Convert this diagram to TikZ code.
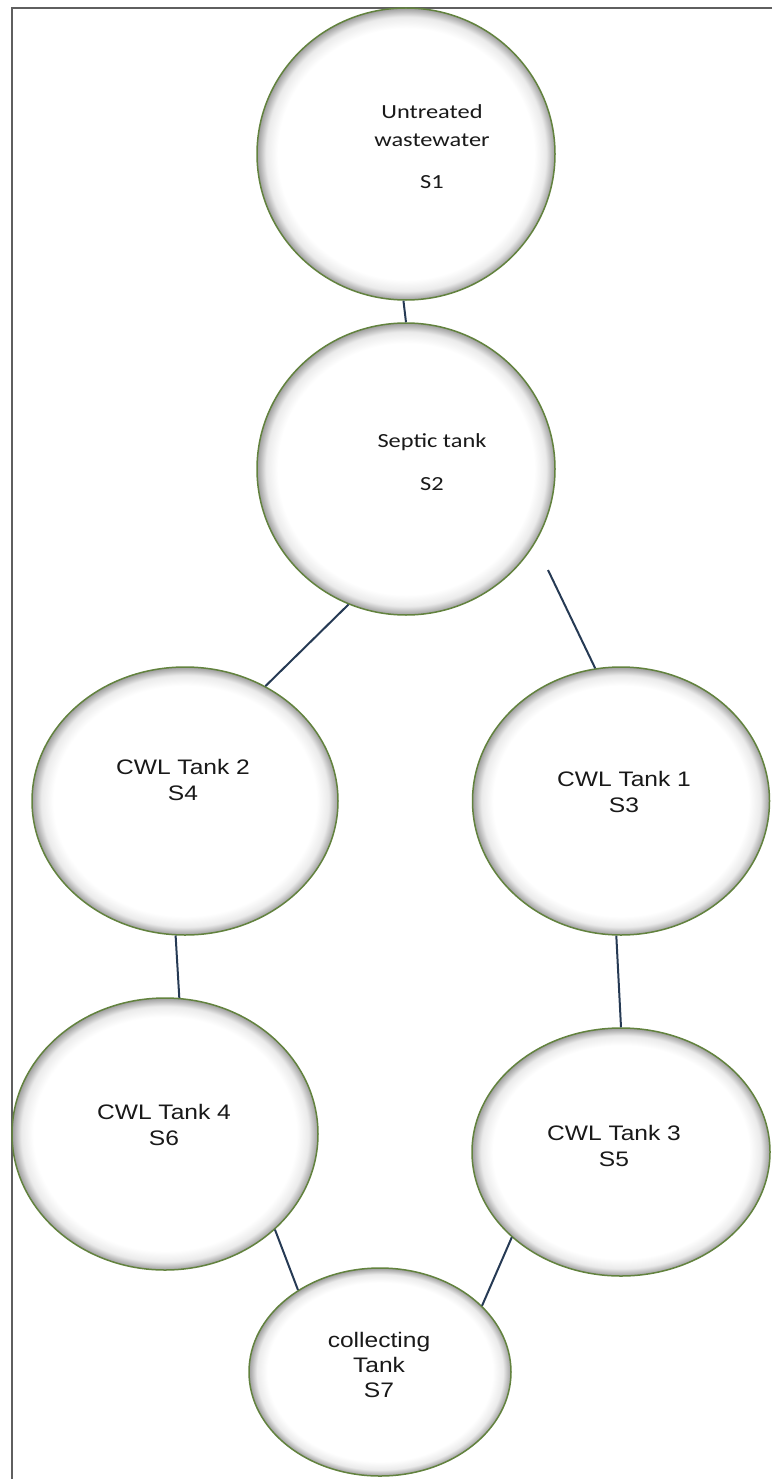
\documentclass[tikz,border=0pt]{standalone}
\usepackage{fontspec}
\usepackage{tikz}
\usetikzlibrary{
  shapes.geometric,
  calc,
  positioning}
\newfontfamily\carlitofont[FakeStretch=1.22]{Carlito}
\newfontfamily\liberfont[FakeStretch=1.17]{Liberation Sans}
\definecolor{tankedge}{RGB}{98,130,62}
\definecolor{pipeblue}{RGB}{38,58,84}
\definecolor{framegray}{RGB}{95,95,95}
\pgfdeclareradialshading{tankshade}{\pgfpointorigin}{color(0bp)=(white); color(21.5bp)=(white); color(23.5bp)=(black!8); color(25bp)=(black!38); color(50bp)=(black!38)}
\tikzset{
  tank/.style={ellipse, draw=tankedge, line width=1.5pt, shade, shading=tankshade, inner sep=0pt},
  pipe/.style={draw=pipeblue, line width=2pt},
  calib/.style={font=\carlitofont\fontsize{20}{28}\selectfont, text=black!90, align=center, inner sep=0pt},
  arialtxt/.style={font=\liberfont\fontsize{21}{26}\selectfont, text=black!90, align=center, inner sep=0pt}}

\begin{document}
\begin{tikzpicture}[x=1pt,y=-1pt]
            \useasboundingbox (0,0) rectangle (772,1479);
            \draw[framegray,line width=1.5pt] (772,8)--(12,8)--(12,1479);

            \node[tank,minimum width=298pt,minimum height=292pt] (s1) at (406,154) {};
            \node[tank,minimum width=298pt,minimum height=292pt] (s2) at (406,469) {};
            \node[tank,minimum width=306pt,minimum height=268pt] (s4) at (185,801) {};
            \node[tank,minimum width=297pt,minimum height=268pt] (s3) at (621,801) {};
            \node[tank,minimum width=306pt,minimum height=272pt] (s6) at (165,1134) {};
            \node[tank,minimum width=298pt,minimum height=248pt] (s5) at (621,1152) {};
            \node[tank,minimum width=262pt,minimum height=208pt] (s7) at (380,1372) {};

            \coordinate (gap23) at (548,570);
            \draw[pipe] (s1.-91)--(s2.90);
            \draw[pipe] (s2.247)--(s4.55);
            \draw[pipe] (gap23)--(s3.101);
            \draw[pipe] (s4.-94)--(s6.84);
            \draw[pipe] (s3.-92)--(s5.90);
            \draw[pipe] (s6.-41)--(s7.135);
            \draw[pipe] (s5.218)--(s7.33);

            \node[calib] (t1) at (432,147) {Untreated\\wastewater\\[14pt]S1};
            \node[calib] (t2) at (432,462) {Septic tank\\[15pt]S2};
            \node[arialtxt] (t4) at (183,780) {CWL Tank 2\\S4};
            \node[arialtxt] (t3) at (624,792) {CWL Tank 1\\S3};
            \node[arialtxt] (t6) at (164,1125) {CWL Tank 4\\S6};
            \node[arialtxt] (t5) at (614,1146) {CWL Tank 3\\S5};
            \node[arialtxt,font=\liberfont\fontsize{21}{25}\selectfont] (t7) at (379,1365) {collecting\\Tank\\S7};
        \end{tikzpicture}
\end{document}
